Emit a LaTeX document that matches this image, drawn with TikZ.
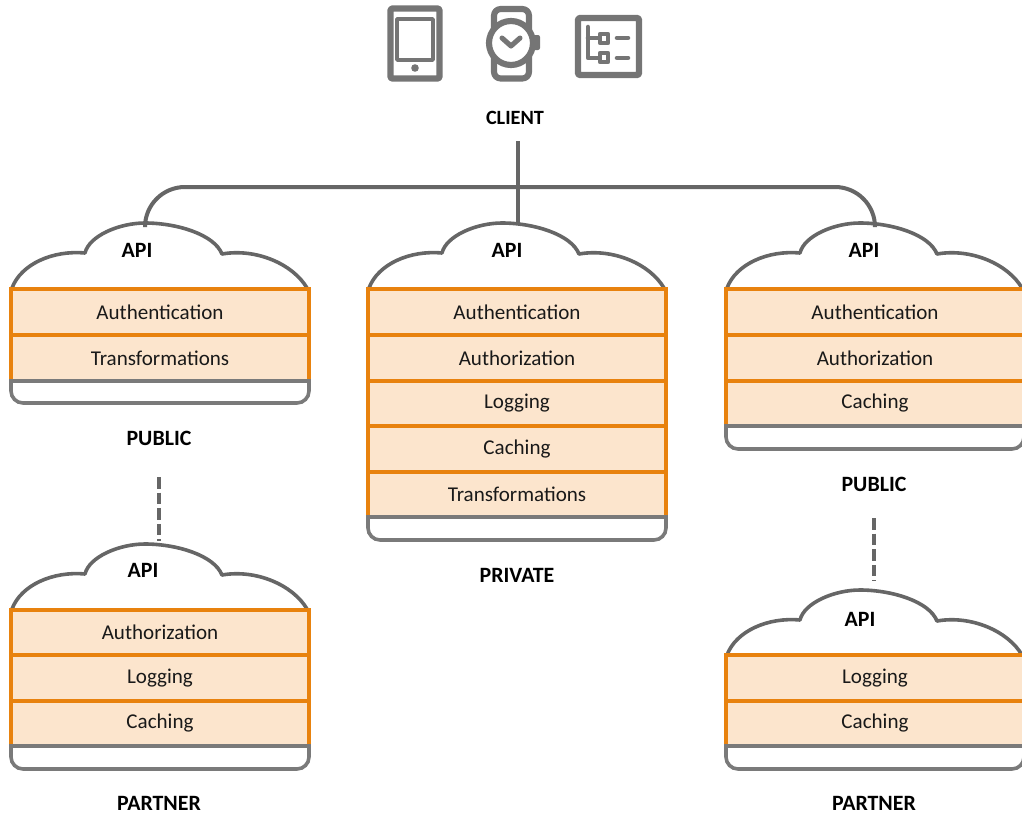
\documentclass[tikz,border=0pt]{standalone}
\usepackage{fontspec}
\setmainfont{Carlito}
\definecolor{linegrey}{HTML}{666666}
\definecolor{boxgrey}{HTML}{7A7A7A}
\definecolor{icongrey}{HTML}{757575}
\definecolor{rowor}{HTML}{E8820E}
\definecolor{rowfill}{HTML}{FCE5CD}
\tikzset{
  rowbox/.style={draw=rowor,fill=rowfill,line width=3pt,outer sep=0pt,minimum width=223.5pt,minimum height=34.2pt,anchor=north west,inner sep=0pt,text=black!90,font=\fontsize{15.8}{17}\selectfont},
  apilabel/.style={font=\fontsize{16.4}{18}\selectfont\bfseries,inner sep=0pt},
  tierlabel/.style={font=\fontsize{16.4}{18}\selectfont\bfseries,inner sep=0pt},
  clientlabel/.style={font=\fontsize{15.2}{18}\selectfont\bfseries,inner sep=0pt},
  cloudline/.style={draw=linegrey,line width=2.7pt,line join=round},
  trayline/.style={draw=boxgrey,line width=2.7pt,fill=white},
  connector/.style={draw=linegrey,line width=3pt},
  dashconn/.style={draw=linegrey,line width=3.5pt,dash pattern=on 8.7pt off 3pt},
  iconline/.style={draw=icongrey,line width=4.6pt,line join=round},
  iconthin/.style={draw=icongrey,line width=3.4pt,line cap=round,line join=round},
}
% #1 name, #2 x left, #3 y of top of rows, #4 y of tray line, #5 y of tray bottom
\newcommand{\cloudtray}[5]{%
  \begin{scope}[shift={(#2,#3)}]
    \draw[cloudline,fill=white] (1,0) .. controls (10,-24) and (42,-38) .. (74,-35)
      .. controls (78,-52) and (108,-65) .. (134,-65)
      .. controls (165,-65) and (203,-54) .. (211,-34)
      .. controls (245,-40) and (282,-24) .. (296,0);
    \coordinate (#1top) at (134,-65);
  \end{scope}
  \draw[trayline,rounded corners=9pt] (#2,#4) -- (#2,#5) -- ({#2+298},#5) -- ({#2+298},#4);
}
\begin{document}
\begin{tikzpicture}[x=0.75pt,y=-0.75pt]
\useasboundingbox (0,0) rectangle (1022,814);
% icons
\draw[iconline,rounded corners=1pt] (390.5,8.5) rectangle (439.5,78.5);
\draw[iconthin,line width=2.8pt,line cap=butt] (397,19) rectangle (433,60);
\fill[icongrey] (415,68) circle (3.8);
\draw[iconline,rounded corners=5pt] (494,30) -- (494,9) -- (529,9) -- (529,30);
\draw[iconline,rounded corners=5pt] (494,56) -- (494,78.5) -- (529,78.5) -- (529,56);
\fill[icongrey,rounded corners=1.5pt] (532,35) rectangle (540,50);
\draw[iconline,fill=white] (511,43) circle (22);
\draw[iconthin,line width=3.8pt] (502,38) -- (511,46) -- (520,38);
\draw[iconline,rounded corners=1pt] (578,18) rectangle (639,75);
\draw[iconthin] (588,27) -- (588,58) -- (599,58);
\draw[iconthin] (588,38) -- (599,38);
\draw[iconthin] (600,34) rectangle (608,43);
\draw[iconthin] (600,53) rectangle (608,62);
\draw[iconthin] (617,38) -- (628,38);
\draw[iconthin] (617,58) -- (628,58);

\node[clientlabel] (client) at (515,118) {CLIENT};

% clouds and trays
\cloudtray{a}{11}{288}{380.6}{403}
\cloudtray{b}{368}{288}{517.4}{540}
\cloudtray{c}{726}{288}{426.2}{449}
\cloudtray{d}{11}{609}{746}{769}
\cloudtray{e}{726}{655}{746}{769}

% rows
\node[rowbox] (a1) at (11,289) {Authentication};
\node[rowbox] (a2) at (11,335) {Transformations};

\node[rowbox] (b1) at (368,289) {Authentication};
\node[rowbox] (b2) at (368,335) {Authorization};
\node[rowbox] (b3) at (368,380.6) {Logging};
\node[rowbox] (b4) at (368,426.2) {Caching};
\node[rowbox] (b5) at (368,471.8) {Transformations};

\node[rowbox] (c1) at (726,289) {Authentication};
\node[rowbox] (c2) at (726,335) {Authorization};
\node[rowbox] (c3) at (726,380.6) {Caching};

\node[rowbox] (d1) at (11,609.5) {Authorization};
\node[rowbox] (d2) at (11,655) {Logging};
\node[rowbox] (d3) at (11,700.6) {Caching};

\node[rowbox] (e1) at (726,655) {Logging};
\node[rowbox] (e2) at (726,700.6) {Caching};

% tray lines over row bottoms
\foreach \xa/\ya in {11/380.6,368/517.4,726/426.2,11/746,726/746}{
  \draw[draw=boxgrey,line width=2.9pt] ({\xa-2},\ya) -- ({\xa+300},\ya);
}

% API labels
\node[apilabel] (apia) at (137,250) {API};
\node[apilabel] (apib) at (507,250) {API};
\node[apilabel] (apic) at (864,250) {API};
\node[apilabel] (apid) at (143,570) {API};
\node[apilabel] (apie) at (860,619) {API};

% tier labels
\node[tierlabel] (puba) at (159,438) {PUBLIC};
\node[tierlabel] (priv) at (517,575) {PRIVATE};
\node[tierlabel] (pubc) at (874,484) {PUBLIC};
\node[tierlabel] (parta) at (159,803) {PARTNER};
\node[tierlabel] (parte) at (874,803) {PARTNER};

% connectors
\coordinate (clientfoot) at (518,141);
\coordinate (busmid) at (518,187);
\draw[connector] (clientfoot) -- (btop -| busmid);
\draw[connector,rounded corners=30pt] (145,223) -- (145,187) -- (875,187) -- (875,223);
\coordinate (dashA) at (159,477);
\coordinate (dashE) at (874,518);
\draw[dashconn] (dashA) -- (159,541);
\draw[dashconn] (dashE) -- (874,581);
\end{tikzpicture}
\end{document}
